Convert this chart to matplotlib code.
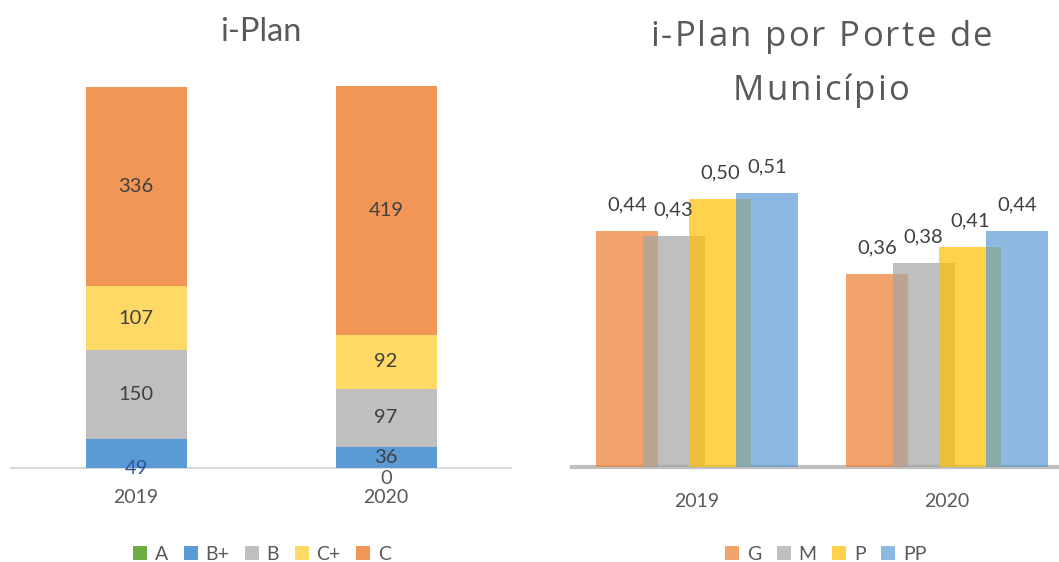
import numpy as np
import matplotlib.pyplot as plt
from matplotlib.patches import Patch
from matplotlib.font_manager import FontProperties

plt.rcParams['font.family'] = ['Lato', 'DejaVu Sans']

# left chart: i-Plan counts per grade
years = ['2019', '2020']
grades = ['A', 'B+', 'B', 'C+', 'C']
counts = {
    'A': [0, 0],
    'B+': [49, 36],
    'B': [150, 97],
    'C+': [107, 92],
    'C': [336, 419],
}
grade_colors = ['#70AD47', '#5B9BD5', '#BFBFBF', '#FFD966', '#F29657']

# right chart: i-Plan by municipality size
sizes = ['G', 'M', 'P', 'PP']
iplan_2019 = [0.44, 0.43, 0.50, 0.51]
iplan_2020 = [0.36, 0.38, 0.41, 0.44]
size_colors = ['#ED7D31', '#A5A5A5', '#FFC000', '#5B9BD5']

W, H = 1059, 562
fig = plt.figure(figsize=(W / 100, H / 100), dpi=100)
dark = '#404040'
mid = '#595959'
px = 72 / 100  # points per pixel

# ---------- left: stacked bars ----------
ax1 = fig.add_axes([11 / W, (H - 468) / H, 500 / W, 382 / H])
x = np.arange(len(years))
bottom = np.zeros(len(years))
for g, c in zip(grades, grade_colors):
    vals = np.array(counts[g], dtype=float)
    ax1.bar(x, vals, 0.404, bottom=bottom, color=c, edgecolor='none', zorder=2)
    for i, v in enumerate(vals):
        if g in ('C', 'C+', 'B') or (g == 'B+' and i == 1):
            ax1.text(x[i], bottom[i] + v / 2, str(int(v)), ha='center', va='center',
                     fontsize=14.5, color=dark, zorder=3)
    bottom += vals
# labels that Excel pushed onto the axis
ax1.annotate(str(counts['B+'][0]), (x[0], 0), xytext=(0, 0), textcoords='offset points',
             ha='center', va='center', fontsize=14.5, color='#2F5597', annotation_clip=False, zorder=4)
ax1.annotate(str(counts['A'][1]), (x[1], 0), xytext=(0, -11 * px), textcoords='offset points',
             ha='center', va='center', fontsize=14.5, color=mid, annotation_clip=False, zorder=4)
ax1.set_xlim(-0.5, 1.5)
ax1.set_ylim(0, 644)

# ---------- right: overlapping grouped bars ----------
ax2 = fig.add_axes([572 / W, (H - 467) / H, 500 / W, 322 / H])
step, width = 0.186, 0.248
for j, (s, c) in enumerate(zip(sizes, size_colors)):
    vals = [iplan_2019[j], iplan_2020[j]]
    pos = x + (j - 1.5) * step
    ax2.bar(pos, vals, width, color=c, alpha=0.7, edgecolor='none', zorder=2 + j)
    for p, v in zip(pos, vals):
        ax2.annotate(f'{v:.2f}'.replace('.', ','), (p, v), xytext=(0, 26 * px),
                     textcoords='offset points', ha='center', va='center',
                     fontsize=14.5, color=dark, zorder=10)
ax2.set_xlim(-0.5, 1.5)
ax2.set_ylim(0, 0.6)

for ax, lw, lc, pad in [(ax1, 1.5, '#D9D9D9', 21), (ax2, 3, '#BFBFBF', 26)]:
    for sp in ['top', 'right', 'left']:
        ax.spines[sp].set_visible(False)
    ax.spines['bottom'].set_color(lc)
    ax.spines['bottom'].set_linewidth(lw)
    ax.spines['bottom'].set_zorder(1)
    ax.set_yticks([])
    ax.set_xticks(x)
    ax.set_xticklabels(years, fontsize=14, color=mid)
    ax.tick_params(axis='x', length=0, pad=pad * px)
    ax.patch.set_visible(False)


def tracked_text(s, xc, y_top, size, extra):
    # draw a centred line char by char with extra letter spacing (pixels)
    prop = FontProperties(family=['Open Sans', 'DejaVu Sans'], size=size)
    r = fig.canvas.get_renderer()
    base = r.get_text_width_height_descent('xx', prop, ismath=False)[0]
    widths = [r.get_text_width_height_descent('x' + ch + 'x', prop, ismath=False)[0] - base
              for ch in s]
    total = sum(widths) + extra * (len(s) - 1)
    cur = xc - total / 2
    for ch, w in zip(s, widths):
        fig.text(cur / W, 1 - y_top / H, ch, ha='left', va='baseline',
                 fontproperties=prop, color=mid)
        cur += w + extra


# titles
fig.text(261 / W, 1 - 32 / H, 'i-Plan', ha='center', va='center', fontsize=23.5, color=mid)
tracked_text('i-Plan por Porte de', 821, 46, 25, 2.2)
tracked_text('Município', 821, 100, 25, 2.2)

# legends
h1 = [Patch(facecolor=c, edgecolor='none') for c in grade_colors]
fig.legend(h1, grades, loc='center', bbox_to_anchor=(262 / W, 8 / H), ncol=5, frameon=False,
           fontsize=14, labelcolor=mid, handlelength=0.72, handleheight=0.72,
           handletextpad=0.4, columnspacing=0.8)
h2 = [Patch(facecolor=c, edgecolor='none', alpha=0.7) for c in size_colors]
fig.legend(h2, sizes, loc='center', bbox_to_anchor=(826 / W, 8 / H), ncol=4, frameon=False,
           fontsize=14, labelcolor=mid, handlelength=0.72, handleheight=0.72,
           handletextpad=0.4, columnspacing=0.8)

fig.savefig('out.png', dpi=100)
